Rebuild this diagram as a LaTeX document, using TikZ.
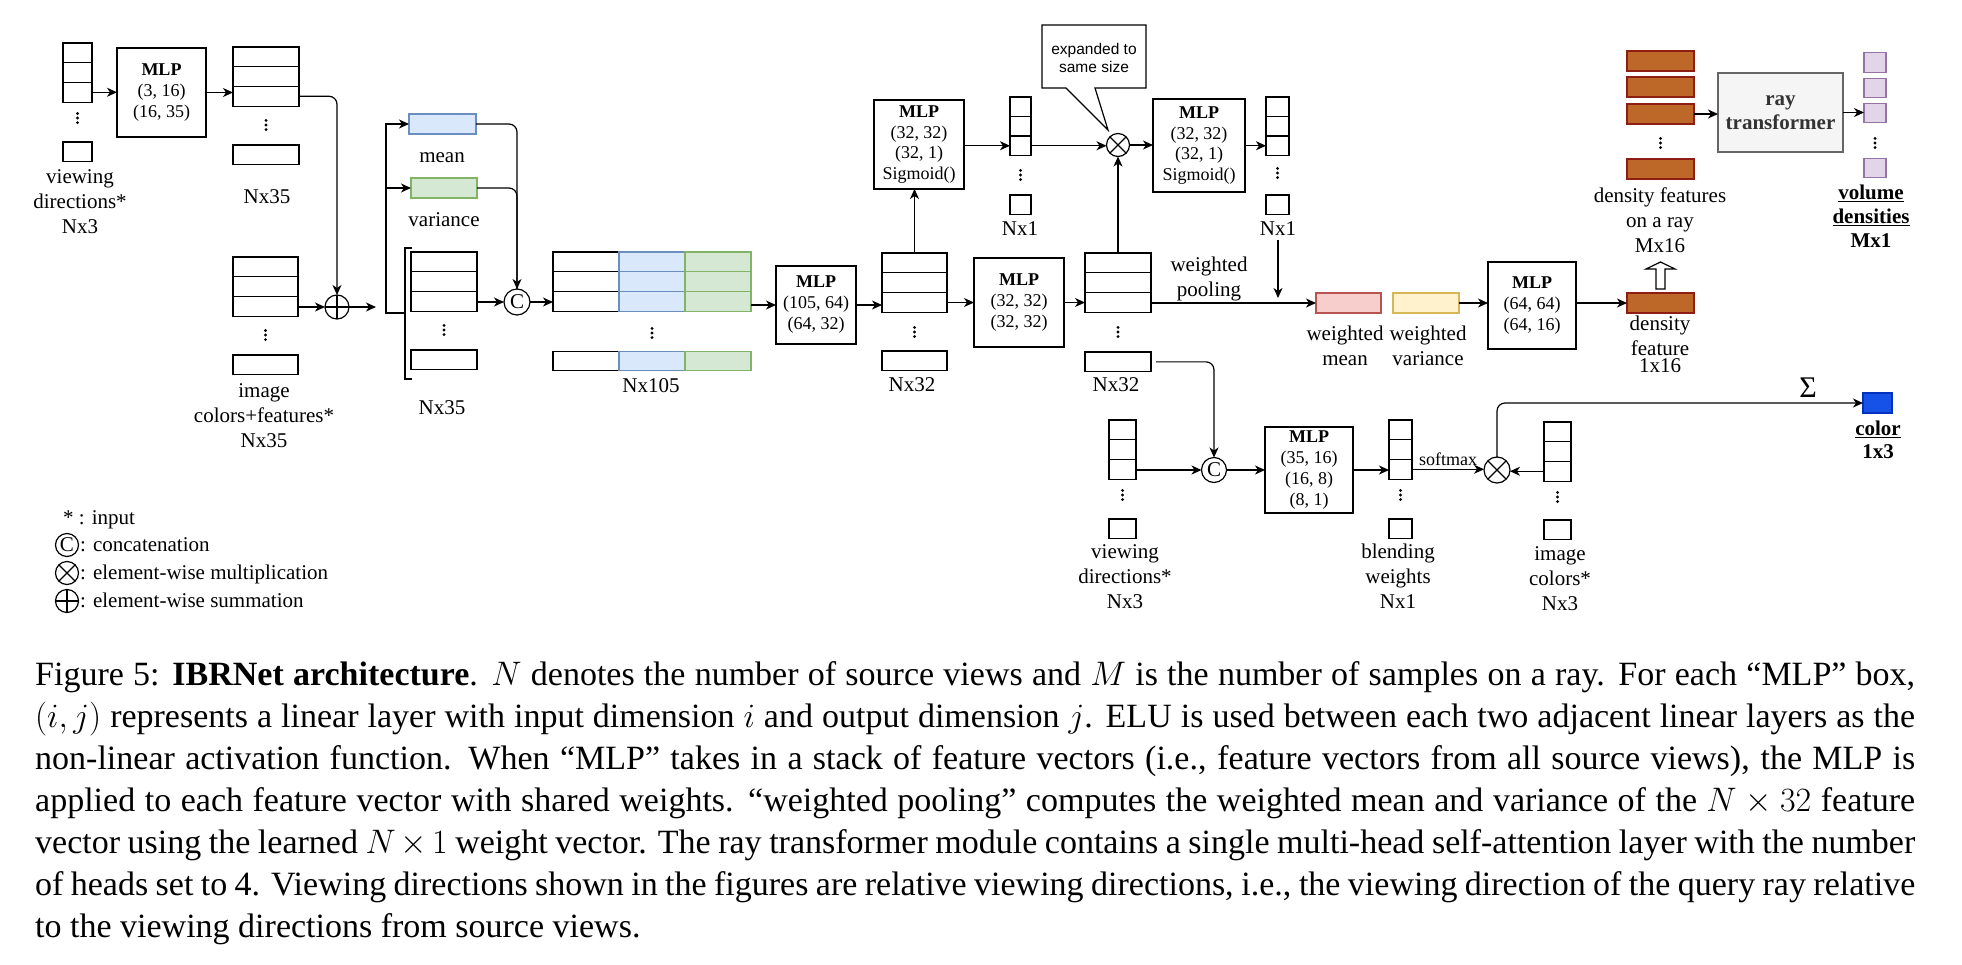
\documentclass[tikz,border=0pt]{standalone}
\usepackage{fix-cm}
\usepackage{fontspec}
\setmainfont{Liberation Serif}
\newfontfamily\calloutfont{Liberation Sans}
\usetikzlibrary{arrows.meta}
\definecolor{bluef}{HTML}{DAE8FC}\definecolor{bluel}{HTML}{6C8EBF}
\definecolor{greenf}{HTML}{D5E8D4}\definecolor{greenl}{HTML}{82B366}
\definecolor{redf}{HTML}{F8CECC}\definecolor{redl}{HTML}{B85450}
\definecolor{yelf}{HTML}{FFF2CC}\definecolor{yell}{HTML}{D6B656}
\definecolor{purf}{HTML}{E1D5E7}\definecolor{purl}{HTML}{9673A6}
\definecolor{grayf}{HTML}{F5F5F5}\definecolor{grayl}{HTML}{666666}\definecolor{grayt}{HTML}{333333}
\definecolor{brownf}{RGB}{189,104,41}\definecolor{brownl}{RGB}{140,30,20}
\definecolor{colf}{RGB}{22,82,232}\definecolor{coll}{RGB}{0,50,190}
\newcommand\mkstack[7]{%
  \foreach \k in {1,2,3}{%
    \node[cellbox=#3pt, minimum height=#5pt] (#1\k) at (#2,{#4+(\k-0.5)*#5}) {};}%
  \node[dotsnode] (#1d) at (#2,#6) {};%
  \node[cellbox=#3pt, minimum height=#5pt] (#14) at (#2,{#7+0.5*#5}) {};}
\begin{document}
\begin{tikzpicture}[x=1pt,y=-1pt,
  cellbox/.style={draw, line width=1.2pt, fill=white, inner sep=0pt, outer sep=0pt, minimum width=#1},
  dotsnode/.style={inner sep=0pt, minimum width=5pt, minimum height=15pt,
    path picture={\foreach \d in {-4.6,0,4.6} \fill ([yshift=\d pt]path picture bounding box.center) circle[radius=1.6pt];}},
  mlpbox/.style={draw, line width=1.3pt, fill=white, align=center, inner sep=0pt, outer sep=0pt, font=\fontsize{18}{21}\selectfont},
  lbl/.style={align=center, inner sep=0pt, anchor=north, font=\fontsize{21}{25}\selectfont},
  blbl/.style={inner sep=0pt, anchor=base, font=\fontsize{21}{25}\selectfont},
  arr/.style={line width=1.2pt, -{Stealth[length=10pt,width=9pt,inset=3pt]}},
  conn/.style={line width=1.2pt},
  opcircle/.style={draw, circle, line width=1.2pt, fill=white, inner sep=0pt, outer sep=0pt, minimum size=#1, font=\fontsize{21}{21}\selectfont},
  capline/.style={anchor=base west, inner sep=0pt, font=\fontsize{34}{42}\selectfont}
]
\useasboundingbox (0,0) rectangle (1962,964);

% ---------- top-left input branch ----------
\mkstack{sa}{77.5}{29}{43}{19.7}{118}{142}
\node[lbl] (sal) at (80,169) {viewing\\directions*\\Nx3};
\node[mlpbox, minimum width=89pt, minimum height=89pt] (mlpa) at (161.5,92.5) {\textbf{MLP}\\(3, 16)\\(16, 35)};
\mkstack{sb}{266}{66}{47}{19.7}{125}{145}
\node[blbl] (sbl) at (267,203) {Nx35};
\mkstack{sc}{265.5}{65}{257}{19.7}{335}{355}
\node[lbl] (scl) at (264,383) {image\\colors+features*\\Nx35};
\node[opcircle=24pt] (plus) at (337,307) {};
\draw[conn] (plus.north) -- (plus.south) (plus.west) -- (plus.east);
\coordinate (plusout) at (376,307);
\draw[arr] (sa3.east) -- (sa3.east -| mlpa.west);
\draw[arr] (mlpa.east) -- (mlpa.east -| sb3.west);
\draw[arr, rounded corners=8pt] (sb3.east) -| (plus.north);
\draw[arr] (plus.west -| sc3.east) -- (plus.west);
\draw[arr] (plus.east) -- (plusout);

% ---------- bracket, mean / variance ----------
\draw[line width=2.4pt] (412,248) -- (405,248) -- (405,379) -- (412,379);
\coordinate (brk) at (405,313);
\coordinate (treex) at (386,313);
\node[cellbox=67pt, minimum height=20pt, fill=bluef, draw=bluel] (mean) at (442.5,124) {};
\node[cellbox=66pt, minimum height=20pt, fill=greenf, draw=greenl] (var) at (444,188) {};
\node[blbl] (meanl) at (442,162) {mean};
\node[blbl] (varl) at (444,226) {variance};
\draw[arr] (brk) -- (treex) |- (mean.west);
\draw[arr] (treex |- var.west) -- (var.west);
\mkstack{sd}{444}{66}{252}{19.7}{330}{350}
\node[blbl] (sdl) at (442,414) {Nx35};
\node[opcircle=26pt] (cca) at (517,302) {C};
\draw[arr] (cca.west -| sd3.east) -- (cca.west);
\draw[conn, rounded corners=8pt] (var.east) -| (cca.north);
\draw[arr, rounded corners=8pt] (mean.east) -| (cca.north);

% ---------- Nx105 ----------
\foreach \r in {1,2,3}{
  \node[cellbox=66pt, minimum height=19.7pt] (sew\r) at (586,{252+(\r-0.5)*19.7}) {};
  \node[cellbox=66pt, minimum height=19.7pt, fill=bluef, draw=bluel] (seb\r) at (652,{252+(\r-0.5)*19.7}) {};
  \node[cellbox=66pt, minimum height=19.7pt, fill=greenf, draw=greenl] (seg\r) at (718,{252+(\r-0.5)*19.7}) {};
}
\node[dotsnode] (sed) at (652,333) {};
\node[cellbox=66pt, minimum height=19.7pt] (sew4) at (586,361) {};
\node[cellbox=66pt, minimum height=19.7pt, fill=bluef, draw=bluel] (seb4) at (652,361) {};
\node[cellbox=66pt, minimum height=19.7pt, fill=greenf, draw=greenl] (seg4) at (718,361) {};
\node[blbl] (sel) at (651,392) {Nx105};
\draw[arr] (cca.east) -- (cca.east -| sew3.west);

\node[mlpbox, minimum width=80pt, minimum height=78pt] (mlpb) at (816,305) {\textbf{MLP}\\(105, 64)\\(64, 32)};
\draw[arr] (mlpb.west -| seg3.east) -- (mlpb.west);

% ---------- Nx32 A and attention branch ----------
\mkstack{sf}{914.5}{65}{253}{19.7}{332}{351}
\node[blbl] (sfl) at (912,391) {Nx32};
\draw[arr] (mlpb.east) -- (mlpb.east -| sf3.west);
\node[mlpbox, minimum width=90pt, minimum height=89pt, font=\fontsize{18}{20.7}\selectfont] (mlpc) at (919,144.5) {\textbf{MLP}\\(32, 32)\\(32, 1)\\Sigmoid()};
\draw[arr] (sf1.north) -- (sf1.north |- mlpc.south);
\mkstack{sg}{1020.5}{21}{97}{19.5}{175}{195}
\node[blbl] (sgl) at (1020,235) {Nx1};
\draw[arr] (sg3.west -| mlpc.east) -- (sg3.west);
\node[opcircle=23pt] (mula) at (1118,145) {};
\draw[conn] (mula.north east) -- (mula.south west) (mula.north west) -- (mula.south east);
\draw[arr] (sg3.east) -- (sg3.east -| mula.west);
\node[mlpbox, minimum width=92pt, minimum height=93pt, font=\fontsize{18}{20.7}\selectfont] (mlpd) at (1199,145.5) {\textbf{MLP}\\(32, 32)\\(32, 1)\\Sigmoid()};
\draw[arr] (mula.east) -- (mula.east -| mlpd.west);
\mkstack{sh}{1277.5}{23}{97}{19.5}{173}{195}
\node[blbl] (shl) at (1278,235) {Nx1};
\draw[arr] (sh3.west -| mlpd.east) -- (sh3.west);

% callout
\draw[line width=1.2pt, fill=white] (1042,25) -- (1146,25) -- (1146,88) -- (1095,88) -- (1108,130) -- (1066,88) -- (1042,88) -- cycle;
\node[align=center, inner sep=0pt, font=\calloutfont\fontsize{15.5}{18}\selectfont] (callout) at (1094,58) {expanded to\\same size};

% ---------- Nx32 B and pooling ----------
\node[mlpbox, minimum width=90pt, minimum height=89pt] (mlpe) at (1019,302.5) {\textbf{MLP}\\(32, 32)\\(32, 32)};
\draw[arr] (mlpe.west -| sf3.east) -- (mlpe.west);
\mkstack{si}{1118}{66}{253}{19.7}{332}{352}
\node[blbl] (sil) at (1116,391) {Nx32};
\draw[arr] (mlpe.east) -- (mlpe.east -| si3.west);
\draw[arr] (si1.north) -- (mula.south);

\node[cellbox=65pt, minimum height=20pt, fill=redf, draw=redl] (wmean) at (1348.5,303) {};
\node[cellbox=66pt, minimum height=20pt, fill=yelf, draw=yell] (wvar) at (1426,303) {};
\draw[arr] (wmean.west -| si3.east) -- (wmean.west);
\node[lbl] (wpl) at (1209,257) {weighted\\pooling};
\node[lbl] (wmeanl) at (1345,326) {weighted\\mean};
\node[lbl] (wvarl) at (1428,326) {weighted\\variance};
\coordinate (poolhit) at (1278,298);
\draw[arr, shorten <=5pt] (shl.south) -- (shl.south |- poolhit);

\node[mlpbox, minimum width=88pt, minimum height=87pt] (mlpf) at (1532,305.5) {\textbf{MLP}\\(64, 64)\\(64, 16)};
\draw[arr] (wvar.east) -- (wvar.east -| mlpf.west);
\node[cellbox=67pt, minimum height=20pt, fill=brownf, draw=brownl] (dfeat) at (1660.5,303) {};
\draw[arr] (dfeat.west -| mlpf.east) -- (dfeat.west);
\node[lbl] (dfeatl) at (1660,316) {density\\feature\\[-8pt]1x16};
\draw[line width=1.2pt, fill=white] (1656,289) -- (1656,269) -- (1646,269) -- (1660.5,262) -- (1675,269) -- (1665,269) -- (1665,289) -- cycle;

% density features on a ray
\node[cellbox=67pt, minimum height=20pt, fill=brownf, draw=brownl] (dfs1) at (1660.5,61) {};
\node[cellbox=67pt, minimum height=20pt, fill=brownf, draw=brownl] (dfs2) at (1660.5,87) {};
\node[cellbox=67pt, minimum height=20pt, fill=brownf, draw=brownl] (dfs3) at (1660.5,114) {};
\node[dotsnode] (dfsd) at (1660.5,143) {};
\node[cellbox=67pt, minimum height=20pt, fill=brownf, draw=brownl] (dfs4) at (1660.5,169) {};
\node[lbl] (dfsl) at (1660,188) {density features\\on a ray\\Mx16};
\node[draw=grayl, fill=grayf, line width=1.3pt, minimum width=125pt, minimum height=79pt, inner sep=0pt, outer sep=0pt, align=center, text=grayt, font=\fontsize{21}{24}\selectfont\bfseries] (rt) at (1780.5,112.5) {ray\\transformer};
\draw[arr] (dfs3.east) -- (dfs3.east -| rt.west);
\node[cellbox=22pt, minimum height=19.5pt, fill=purf, draw=purl] (vol1) at (1875,62.5) {};
\node[cellbox=22pt, minimum height=19.5pt, fill=purf, draw=purl] (vol2) at (1875,88) {};
\node[cellbox=22pt, minimum height=19.5pt, fill=purf, draw=purl] (vol3) at (1875,113) {};
\node[dotsnode] (vold) at (1875,143) {};
\node[cellbox=22pt, minimum height=19.5pt, fill=purf, draw=purl] (vol4) at (1875,168) {};
\draw[arr] (rt.east) -- (rt.east -| vol3.west);
\node[lbl, font=\fontsize{21}{24}\selectfont] (voll) at (1871,185) {\underline{\textbf{volume}}\\\underline{\textbf{densities}}\\\textbf{Mx1}};

% ---------- color branch ----------
\node[opcircle=25pt] (ccb) at (1214,470) {C};
\draw[arr, rounded corners=8pt, shorten <=5pt] (si4.east) -| (ccb.north);
\mkstack{sj}{1122.5}{27}{420}{19.7}{495}{519}
\node[lbl] (sjl) at (1125,544) {viewing\\directions*\\Nx3};
\draw[arr] (ccb.west -| sj3.east) -- (ccb.west);
\node[mlpbox, minimum width=88pt, minimum height=86pt, font=\fontsize{18}{21}\selectfont] (mlpg) at (1309,470) {\textbf{MLP}\\(35, 16)\\(16, 8)\\(8, 1)};
\draw[arr] (ccb.east) -- (mlpg.west);
\mkstack{sk}{1400.5}{23}{420}{19.7}{495}{519}
\node[lbl] (skl) at (1398,544) {blending\\weights\\Nx1};
\draw[arr] (mlpg.east) -- (mlpg.east -| sk3.west);
\node[opcircle=26pt] (mulb) at (1497,470) {};
\draw[conn] (mulb.north east) -- (mulb.south west) (mulb.north west) -- (mulb.south east);
\draw[arr] (sk3.east) -- (sk3.east -| mulb.west) node[midway, above=3pt, inner sep=0pt, font=\fontsize{18}{18}\selectfont] (smx) {softmax};
\mkstack{sl}{1557.5}{27}{422}{19.7}{497}{520}
\node[lbl] (sll) at (1560,546) {image\\colors*\\Nx3};
\draw[arr] (sl3.west) -- (sl3.west -| mulb.east);
\node[cellbox=29pt, minimum height=20pt, fill=colf, draw=coll] (colorbox) at (1877.5,403) {};
\draw[arr, rounded corners=8pt] (mulb.north) |- (colorbox.west);
\node[inner sep=0pt, anchor=base, font=\fontsize{30}{30}\selectfont] (sigma) at (1808,397) {Σ};
\node[lbl, font=\fontsize{21}{23}\selectfont] (colorl) at (1878,421) {\underline{\textbf{color}}\\\textbf{1x3}};

% ---------- legend ----------
\node[anchor=base west, inner sep=0pt, font=\fontsize{21}{25}\selectfont] (leg0) at (63,524) {* : input};
\node[opcircle=23pt] (legc) at (67,545) {C};
\node[opcircle=23pt] (legm) at (67,573) {};
\draw[conn] (legm.north east) -- (legm.south west) (legm.north west) -- (legm.south east);
\node[opcircle=23pt] (legp) at (67,601) {};
\draw[conn] (legp.north) -- (legp.south) (legp.west) -- (legp.east);
\node[anchor=base west, inner sep=0pt, font=\fontsize{21}{25}\selectfont] (leg1) at (80,551) {: concatenation};
\node[anchor=base west, inner sep=0pt, font=\fontsize{21}{25}\selectfont] (leg2) at (80,579) {: element-wise multiplication};
\node[anchor=base west, inner sep=0pt, font=\fontsize{21}{25}\selectfont] (leg3) at (80,607) {: element-wise summation};

% ---------- caption ----------
\node[capline] (cap1) at (35,685) {\hbox to 1880pt{Figure 5: \textbf{IBRNet architecture}. $N$ denotes the number of source views and $M$ is the number of samples on a ray. For each “MLP” box,}};
\node[capline] (cap2) at (35,727) {\hbox to 1880pt{$(i,j)$ represents a linear layer with input dimension $i$ and output dimension $j$. ELU is used between each two adjacent linear layers as the}};
\node[capline] (cap3) at (35,769) {\hbox to 1880pt{non-linear activation function. When “MLP” takes in a stack of feature vectors (i.e., feature vectors from all source views), the MLP is}};
\node[capline] (cap4) at (35,811) {\hbox to 1880pt{applied to each feature vector with shared weights. “weighted pooling” computes the weighted mean and variance of the $N\times 32$ feature}};
\node[capline] (cap5) at (35,853) {\hbox to 1880pt{vector using the learned $N\times 1$ weight vector. The ray transformer module contains a single multi-head self-attention layer with the number}};
\node[capline] (cap6) at (35,895) {\hbox to 1880pt{of heads set to 4. Viewing directions shown in the figures are relative viewing directions, i.e., the viewing direction of the query ray relative}};
\node[capline] (cap7) at (35,937) {to the viewing directions from source views.};
\end{tikzpicture}
\end{document}
